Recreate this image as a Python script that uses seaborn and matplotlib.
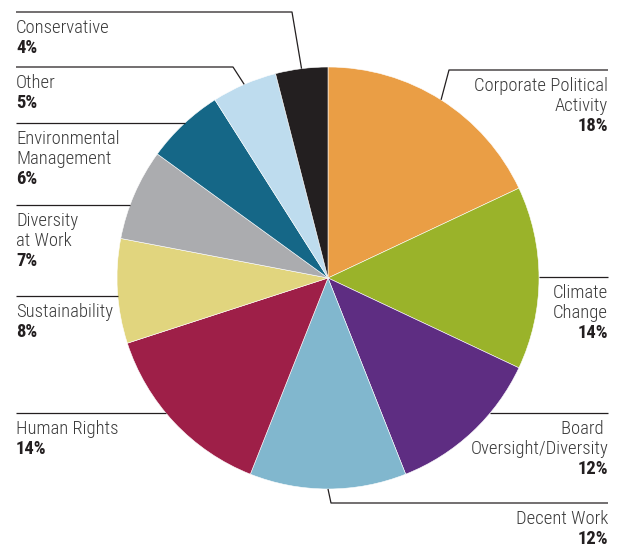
import numpy as np
import matplotlib
matplotlib.use('Agg')
import matplotlib.pyplot as plt
import seaborn as sns
from matplotlib import font_manager

# data (clockwise from 12 o'clock)
labels = ['Corporate Political\nActivity', 'Climate\nChange', 'Board \nOversight/Diversity',
          'Decent Work', 'Human Rights', 'Sustainability', 'Diversity\nat Work',
          'Environmental\nManagement', 'Other', 'Conservative']
shares = [18, 14, 12, 12, 14, 8, 7, 6, 5, 4]
colors = ['#EA9E45', '#9AB32A', '#5E2D82', '#81B7CE', '#9E1F48',
          '#E1D57E', '#ABACAF', '#156787', '#BEDCEE', '#231F20']

# label layout: side, y of the leader's horizontal line, x of the elbow (None = straight)
sides = ['right', 'right', 'right', 'right', 'left', 'left', 'left', 'left', 'left', 'left']
line_y = [70, 277, 413, 503, 413, 296, 205, 123, 67, 12]
elbow_x = [449, None, None, 331, None, None, None, None, 233, 292]

sns.set_theme(style='white')
fonts = font_manager.fontManager.ttflist
names = {f.name for f in fonts}
stretch = 'normal'
if 'Liberation Sans Narrow' in names:
    fam = 'Liberation Sans Narrow'
elif 'Roboto Condensed' in names:
    fam = 'Roboto Condensed'
elif any(f.name == 'DejaVu Sans' and f.stretch == 'condensed' for f in fonts):
    fam, stretch = 'DejaVu Sans', 'condensed'
else:
    fam = 'Roboto'
plt.rcParams['font.family'] = [fam, 'DejaVu Sans']
plt.rcParams['font.stretch'] = stretch

W, H = 621, 546
fig = plt.figure(figsize=(W / 100, H / 100), dpi=100)
ax = fig.add_axes([0, 0, 1, 1])

cx, cy, r = 328, 278, 211
wedges, _ = ax.pie(shares, colors=colors, startangle=-90, counterclock=True,
                   center=(cx, cy), radius=r,
                   wedgeprops=dict(edgecolor='white', linewidth=0.4))
ax.set_xlim(0, W)
ax.set_ylim(H, 0)
ax.axis('off')

left_x, right_x = 16, 608
lh = 20
fs = 13.4
line_kw = dict(color='#231F20', lw=0.9, solid_capstyle='butt')
cum = np.cumsum([0] + shares)
for i, name in enumerate(labels):
    mid = np.deg2rad(-90 + (cum[i] + shares[i] / 2) * 3.6)
    y = line_y[i]
    end_x = left_x if sides[i] == 'left' else right_x
    if elbow_x[i] is None:
        dx = np.sqrt(r ** 2 - (y - cy) ** 2)
        start = (cx - dx if sides[i] == 'left' else cx + dx, y)
        xs, ys = [start[0], end_x], [y, y]
    else:
        ax_pt = (cx + r * np.cos(mid), cy + r * np.sin(mid))
        xs = [ax_pt[0], elbow_x[i], end_x]
        ys = [ax_pt[1], y, y]
    ax.plot(xs, ys, **line_kw)

    ha = 'left' if sides[i] == 'left' else 'right'
    base = y + 21
    rows = name.split('\n')
    for k, row in enumerate(rows):
        ax.text(end_x, base + k * lh, row, ha=ha, va='baseline', fontsize=fs,
                color='#3a3a3a', fontweight='light', fontstretch=stretch)
    ax.text(end_x, min(base + len(rows) * lh, H - 2.5), f'{shares[i]}%', ha=ha,
            va='baseline', fontsize=fs, fontweight='bold', color='#231F20',
            fontstretch=stretch)

fig.savefig('out.png', dpi=100)
